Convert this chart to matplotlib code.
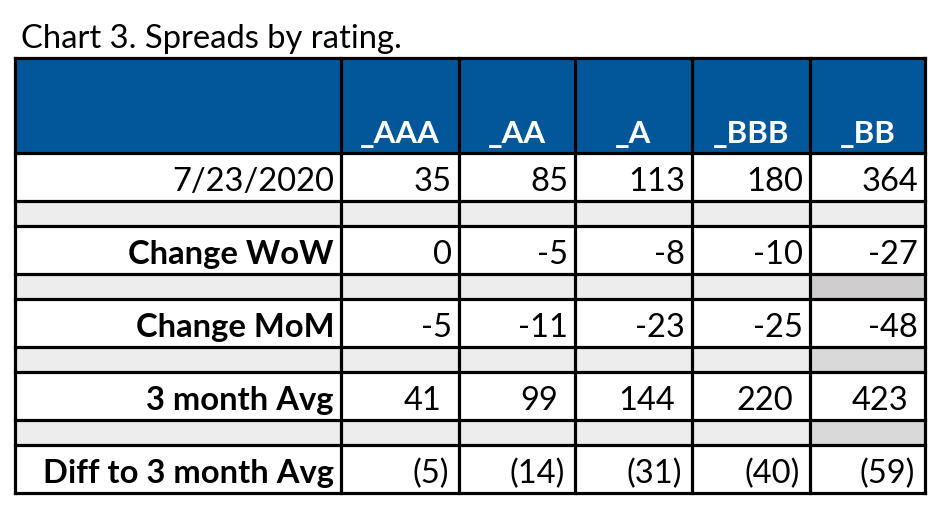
import matplotlib
matplotlib.use('Agg')
import matplotlib.pyplot as plt
import matplotlib.patches as patches

# table content
title = 'Chart 3. Spreads by rating.'
ratings = ['_AAA', '_AA', '_A', '_BBB', '_BB']
rowLabels = ['7/23/2020', 'Change WoW', 'Change MoM', '3 month Avg', 'Diff to 3 month Avg']
spreads = [35, 85, 113, 180, 364]
changeWoW = [0, -5, -8, -10, -27]
changeMoM = [-5, -11, -23, -25, -48]
avg3m = [41, 99, 144, 220, 423]
diffAvg = [-5, -14, -31, -40, -59]

def fmtPlain(v):
    return str(v)

def fmtAcct(v):
    return f'({abs(v)})' if v < 0 else str(v)

rows = [
    [fmtPlain(v) for v in spreads],
    [fmtPlain(v) for v in changeWoW],
    [fmtPlain(v) for v in changeMoM],
    [fmtPlain(v) for v in avg3m],
    [fmtAcct(v) for v in diffAvg],
]

# layout in pixels
colEdges = [15, 341, 459, 575, 692, 810, 925]
headerTop, headerBottom = 58, 153
dataH, gapH = 48, 25
rightPad = [7, 7, 7, 17, 10]
labelBold = [False, True, True, True, True]
blue = '#01579a'
lightGray = '#ededed'
darkGray = ['#cfcdcd', '#d9d9d9', '#d9d9d9']

fig = plt.figure(figsize=(9.45, 5.15), dpi=100)
ax = fig.add_axes([0, 0, 1, 1])
ax.set_xlim(0, 945)
ax.set_ylim(515, 0)
ax.axis('off')

fontName = 'Lato'
lw = 2.3

# title
ax.text(21, 48, title, fontsize=23.6, fontfamily=fontName, fontweight='normal',
        color='black', ha='left', va='baseline')

left, right = colEdges[0], colEdges[-1]

# header
ax.add_patch(patches.Rectangle((left, headerTop), right - left, headerBottom - headerTop,
                               facecolor=blue, edgecolor='none'))
for i, r in enumerate(ratings):
    cx = (colEdges[i + 1] + colEdges[i + 2]) / 2
    ax.text(cx, headerBottom - 10, r, fontsize=22.5, fontfamily=fontName, fontweight='bold',
            color='white', ha='center', va='baseline')

# body rows
hLines = [headerTop, headerBottom]
y = headerBottom
for k, (label, vals) in enumerate(zip(rowLabels, rows)):
    top, bottom = y, y + dataH
    ax.text(colEdges[1] - 7, bottom - 10, label, fontsize=23.6, fontfamily=fontName,
            fontweight='bold' if labelBold[k] else 'normal', color='black',
            ha='right', va='baseline')
    for i, v in enumerate(vals):
        ax.text(colEdges[i + 2] - rightPad[k], bottom - 10, v, fontsize=23.5,
                fontfamily=fontName, fontweight='normal', color='black',
                ha='right', va='baseline')
    hLines.append(bottom)
    y = bottom
    if k < len(rowLabels) - 1:
        ax.add_patch(patches.Rectangle((left, y), right - left, gapH,
                                       facecolor=lightGray, edgecolor='none'))
        if k >= 1:
            ax.add_patch(patches.Rectangle((colEdges[-2], y), right - colEdges[-2], gapH,
                                           facecolor=darkGray[k - 1], edgecolor='none'))
        y += gapH
        hLines.append(y)

bottomY = y
for hy in hLines:
    ax.plot([left, right], [hy, hy], color='black', lw=lw, solid_capstyle='projecting')
for cx in colEdges:
    ax.plot([cx, cx], [headerTop, bottomY], color='black', lw=lw, solid_capstyle='projecting')

fig.savefig('out.png', dpi=100, facecolor='white')
